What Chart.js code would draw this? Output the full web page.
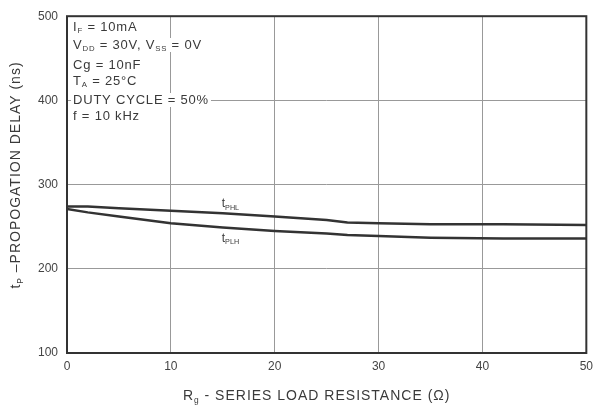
<!DOCTYPE html>
<html>
<head>
<meta charset="utf-8">
<script src="https://cdn.jsdelivr.net/npm/chart.js@4"></script>
<style>
  html, body { margin: 0; padding: 0; background: #fff; }
  #wrap { width: 599px; height: 412px; }
</style>
</head>
<body>
<div id="wrap"><canvas id="delayChart"></canvas></div>
<script>
// data
const resistance = [0, 2, 5, 10, 15, 20, 25, 27, 30, 35, 42, 50];
const tPHL = [274, 274, 272, 269, 266, 262, 258, 255, 254, 253, 253, 252];
const tPLH = [271, 267, 262, 254, 249, 245, 242, 240, 239, 237, 236, 236];
const xTicks = [0, 10, 20, 30, 40, 50];
const yTicks = [100, 200, 300, 400, 500];
const conditions = [
  ['I', 'F', ' = 10mA'],
  ['V', 'DD', ' = 30V, V', 'SS', ' = 0V'],
  ['Cg = 10nF'],
  ['T', 'A', ' = 25°C'],
  ['DUTY CYCLE = 50%'],
  ['f = 10 kHz']
];

const FONT = '"Liberation Sans", Arial, sans-serif';
const INK = '#333';
const TEXT = '#3a3a3a';

function pts(xs, ys) {
  return xs.map((x, i) => ({ x: x, y: ys[i] }));
}

// width of text pieces, odd pieces are subscripts
function subWidth(ctx, parts, size) {
  let w = 0;
  parts.forEach((p, i) => {
    ctx.font = (i % 2 ? size * 0.6 : size) + 'px ' + FONT;
    w += ctx.measureText(p).width;
  });
  return w;
}

function subText(ctx, parts, x, y, size) {
  let cx = x;
  parts.forEach((p, i) => {
    const sub = i % 2 === 1;
    ctx.font = (sub ? size * 0.6 : size) + 'px ' + FONT;
    ctx.fillText(p, cx, sub ? y + size * 0.3 : y);
    cx += ctx.measureText(p).width;
  });
  return cx - x;
}

const annotations = {
  id: 'annotations',
  afterDraw(chart) {
    const ctx = chart.ctx;
    const area = chart.chartArea;
    const xs = chart.scales.x, ys = chart.scales.y;
    ctx.save();
    ctx.textBaseline = 'middle';
    ctx.textAlign = 'left';

    // test conditions box
    ctx.letterSpacing = '0.8px';
    const rowY = [27, 45, 65, 81, 100, 116];
    conditions.forEach((parts, i) => {
      const w = subWidth(ctx, parts, 13);
      ctx.fillStyle = '#fff';
      ctx.fillRect(area.left + 4, rowY[i] - 7, w + 4, 14);
      ctx.fillStyle = TEXT;
      subText(ctx, parts, area.left + 6, rowY[i], 13);
    });

    // curve labels
    ctx.letterSpacing = '0px';
    subText(ctx, ['t', 'PHL'], xs.getPixelForValue(14.9), ys.getPixelForValue(277), 12);
    subText(ctx, ['t', 'PLH'], xs.getPixelForValue(14.9), ys.getPixelForValue(236), 12);

    // axis titles
    ctx.letterSpacing = '1px';
    const xt = ['R', 'g', ' - SERIES LOAD RESISTANCE (Ω)'];
    let tw = subWidth(ctx, xt, 14);
    subText(ctx, xt, (area.left + area.right) / 2 - tw / 2 - 10, 396, 14);

    ctx.translate(16, 175);
    ctx.rotate(-Math.PI / 2);
    const yt = ['t', 'P', ' –PROPOGATION DELAY (ns)'];
    tw = subWidth(ctx, yt, 14);
    subText(ctx, yt, -tw / 2, 0, 14);
    ctx.restore();

    // plot frame
    ctx.save();
    ctx.strokeStyle = INK;
    ctx.lineWidth = 2;
    ctx.strokeRect(area.left, area.top, area.right - area.left, area.bottom - area.top);
    ctx.restore();
  }
};

const lineStyle = {
  borderColor: INK,
  borderWidth: 2.5,
  pointRadius: 0,
  tension: 0,
  fill: false
};

new Chart(document.getElementById('delayChart'), {
  type: 'scatter',
  data: {
    datasets: [
      Object.assign({ label: 'tPHL', data: pts(resistance, tPHL), showLine: true }, lineStyle),
      Object.assign({ label: 'tPLH', data: pts(resistance, tPLH), showLine: true }, lineStyle)
    ]
  },
  options: {
    responsive: true,
    maintainAspectRatio: false,
    animation: false,
    layout: { padding: { left: 0, right: 11, top: 15, bottom: 0 } },
    plugins: {
      legend: { display: false },
      tooltip: { enabled: false }
    },
    scales: {
      x: {
        type: 'linear',
        min: 0,
        max: 50,
        afterBuildTicks: s => { s.ticks = xTicks.map(v => ({ value: v })); },
        afterFit: s => { s.height = 59; },
        grid: { color: '#999', lineWidth: 1, drawTicks: false },
        border: { display: false },
        ticks: {
          color: '#444',
          padding: 6,
          font: { size: 12, family: FONT }
        }
      },
      y: {
        type: 'linear',
        min: 100,
        max: 500,
        afterBuildTicks: s => { s.ticks = yTicks.map(v => ({ value: v })); },
        afterFit: s => { s.width = 67; },
        grid: { color: '#999', lineWidth: 1, drawTicks: false },
        border: { display: false },
        ticks: {
          color: '#444',
          padding: 9,
          font: { size: 12, family: FONT }
        }
      }
    }
  },
  plugins: [annotations]
});
</script>
</body>
</html>
